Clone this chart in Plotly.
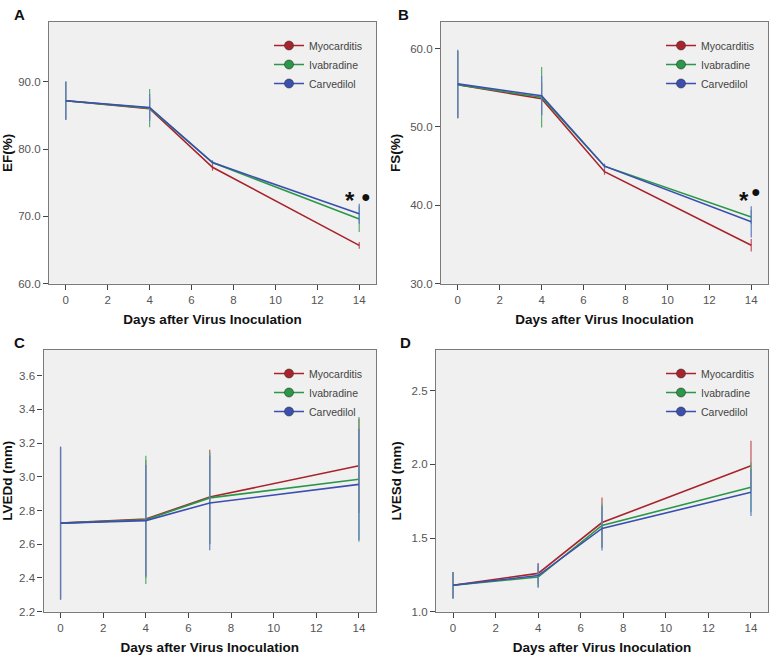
import plotly.graph_objects as go

days = [0, 4, 7, 14]
groups = ["Myocarditis", "Ivabradine", "Carvedilol"]
colors = ["#a8232c", "#2a9848", "#3b4fb0"]
err_colors = ["#c2545e", "#55ad6c", "#5f7cc4"]

# Panel A: EF(%)
ef_myo = [87.2, 86.0, 77.3, 65.7]
ef_ivab = [87.2, 86.1, 78.0, 69.6]
ef_carv = [87.2, 86.2, 78.0, 70.4]
ef_err_myo = [2.8, 1.5, 0.5, 0.5]
ef_err_ivab = [2.8, 2.85, 0.3, 1.9]
ef_err_carv = [2.85, 2.0, 0.3, 1.5]

# Panel B: FS(%)
fs_myo = [55.4, 53.6, 44.3, 34.9]
fs_ivab = [55.4, 53.8, 45.0, 38.5]
fs_carv = [55.5, 54.0, 45.0, 37.9]
fs_err_myo = [4.3, 2.0, 0.4, 0.8]
fs_err_ivab = [4.3, 3.85, 0.3, 0.9]
fs_err_carv = [4.35, 2.5, 0.3, 2.0]

# Panel C: LVEDd (mm)
lvedd_myo = [2.725, 2.75, 2.88, 3.065]
lvedd_ivab = [2.725, 2.745, 2.875, 2.985]
lvedd_carv = [2.725, 2.74, 2.845, 2.955]
lvedd_err_myo = [0.45, 0.35, 0.28, 0.28]
lvedd_err_ivab = [0.45, 0.38, 0.27, 0.37]
lvedd_err_carv = [0.455, 0.33, 0.28, 0.33]

# Panel D: LVESd (mm)
lvesd_myo = [1.18, 1.26, 1.605, 1.99]
lvesd_ivab = [1.18, 1.235, 1.585, 1.845]
lvesd_carv = [1.18, 1.245, 1.565, 1.81]
lvesd_err_myo = [0.09, 0.07, 0.17, 0.17]
lvesd_err_ivab = [0.09, 0.07, 0.15, 0.17]
lvesd_err_carv = [0.09, 0.08, 0.15, 0.16]

W, H = 772, 657

panels = [
    dict(label="A", ytitle="EF(%)", vals=[ef_myo, ef_ivab, ef_carv],
         errs=[ef_err_myo, ef_err_ivab, ef_err_carv],
         yrange=[60, 98.9], dtick=10, tick0=60, px=(49, 376), py=(22, 283.7), lab=(12, 14)),
    dict(label="B", ytitle="FS(%)", vals=[fs_myo, fs_ivab, fs_carv],
         errs=[fs_err_myo, fs_err_ivab, fs_err_carv],
         yrange=[30, 63.4], dtick=10, tick0=30, px=(441, 768), py=(22, 283.7), lab=(396, 14)),
    dict(label="C", ytitle="LVEDd (mm)", vals=[lvedd_myo, lvedd_ivab, lvedd_carv],
         errs=[lvedd_err_myo, lvedd_err_ivab, lvedd_err_carv],
         yrange=[2.2, 3.752], dtick=0.2, tick0=2.2, px=(43.5, 376), py=(350, 611.7), lab=(12, 342)),
    dict(label="D", ytitle="LVESd (mm)", vals=[lvesd_myo, lvesd_ivab, lvesd_carv],
         errs=[lvesd_err_myo, lvesd_err_ivab, lvesd_err_carv],
         yrange=[1.0, 2.776], dtick=0.5, tick0=1.0, px=(436, 768), py=(350, 611.7), lab=(398, 342)),
]

fig = go.Figure()
font_family = "Liberation Sans, Arial, sans-serif"

layout = dict(
    width=W, height=H,
    margin=dict(l=0, r=0, t=0, b=0),
    paper_bgcolor="white",
    plot_bgcolor="#f0f0f0",
    font=dict(family=font_family, color="#333"),
    annotations=[],
)

for i, p in enumerate(panels):
    n = i + 1
    xa = "x" if n == 1 else f"x{n}"
    ya = "y" if n == 1 else f"y{n}"
    leg = "legend" if n == 1 else f"legend{n}"
    for g, name in enumerate(groups):
        fig.add_trace(go.Scatter(
            x=days, y=p["vals"][g], mode="lines", name=name,
            line=dict(color=colors[g], width=1.6),
            error_y=dict(type="data", array=p["errs"][g], visible=True,
                         color=err_colors[g], thickness=1.2, width=0),
            xaxis=xa, yaxis=ya, legend=leg, showlegend=False,
        ))
    for g, name in enumerate(groups):
        fig.add_trace(go.Scatter(
            x=[None], y=[None], mode="lines+markers", name=name,
            line=dict(color=colors[g], width=1.5),
            marker=dict(color=colors[g], size=9, line=dict(color="#333", width=0.6)),
            xaxis=xa, yaxis=ya, legend=leg, showlegend=True,
        ))
    xdom = [p["px"][0] / W, p["px"][1] / W]
    ydom = [1 - p["py"][1] / H, 1 - p["py"][0] / H]
    layout["xaxis" if n == 1 else f"xaxis{n}"] = dict(
        domain=xdom, anchor=ya, range=[-0.8, 14.8], automargin=False,
        tickmode="linear", tick0=0, dtick=2,
        showline=True, mirror=True, linecolor="#7a7a7a", linewidth=1.2,
        ticks="outside", ticklen=5, tickcolor="#444", showgrid=False, zeroline=False,
        tickfont=dict(size=11.5, color="#555"),
        title=dict(text="<b>Days after Virus Inoculation</b>", font=dict(size=13.5, color="#111"), standoff=9),
    )
    layout["yaxis" if n == 1 else f"yaxis{n}"] = dict(
        domain=ydom, anchor=xa, range=p["yrange"], automargin=False,
        tickmode="linear", tick0=p["tick0"], dtick=p["dtick"], tickformat=".1f",
        showline=True, mirror=True, linecolor="#7a7a7a", linewidth=1.2,
        ticks="outside", ticklen=5, tickcolor="#444", showgrid=False, zeroline=False,
        tickfont=dict(size=11.5, color="#555"),
        title=dict(text=f"<b>{p['ytitle']}</b>", font=dict(size=13.5, color="#111"), standoff=6),
    )
    layout[leg] = dict(
        x=xdom[1] - 8 / W, y=ydom[1] - 9 / H, xanchor="right", yanchor="top",
        bgcolor="rgba(0,0,0,0)", font=dict(size=10.5, color="#444"),
        itemwidth=30, tracegroupgap=0,
    )
    layout["annotations"].append(dict(
        text=f"<b>{p['label']}</b>", xref="paper", yref="paper",
        x=p["lab"][0] / W, y=1 - p["lab"][1] / H, xanchor="left", yanchor="middle",
        showarrow=False, font=dict(size=15, color="#111"),
    ))

# Significance marks
layout["annotations"] += [
    dict(text="<b>*</b>", xref="x", yref="y", x=13.57, y=72.3, showarrow=False, font=dict(size=24, color="#111")),
    dict(text="●", xref="x", yref="y", x=14.34, y=73.0, showarrow=False, font=dict(size=16, color="#111")),
    dict(text="<b>*</b>", xref="x2", yref="y2", x=13.65, y=40.6, showarrow=False, font=dict(size=24, color="#111")),
    dict(text="●", xref="x2", yref="y2", x=14.22, y=41.8, showarrow=False, font=dict(size=16, color="#111")),
]

fig.update_layout(**layout)
fig.write_html("out.html", config={"displayModeBar": False},
               post_script="document.body.style.margin='0px';document.body.style.padding='0px';")
